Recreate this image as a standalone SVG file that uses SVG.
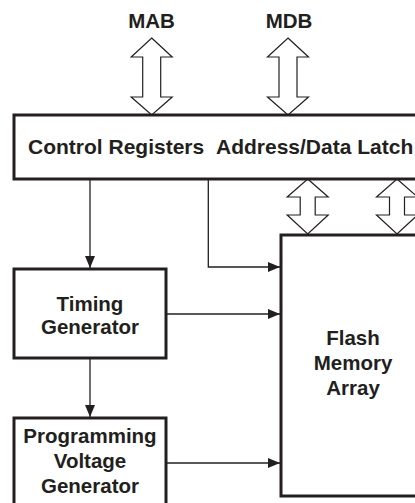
<svg xmlns="http://www.w3.org/2000/svg" width="415" height="503" viewBox="0 0 415 503">
<style>
.box{fill:#fff;stroke:#231f20;stroke-width:3}
.bus{fill:#fff;stroke:#231f20;stroke-width:1.2;stroke-linejoin:miter}
.wire{fill:none;stroke:#231f20;stroke-width:1.3}
text{font-family:"Liberation Sans",Arial,sans-serif;font-weight:bold;font-size:20.5px;fill:#231f20}
.c{text-anchor:middle}
</style>
<defs>
<marker id="ah" markerWidth="12" markerHeight="10" refX="12" refY="5" orient="auto" markerUnits="userSpaceOnUse">
<path d="M0,0 L12,5 L0,10 Z" fill="#231f20"/>
</marker>
</defs>
<rect width="415" height="503" fill="#fff"/>
<g id="connectors">
<path class="wire" d="M90,179 V268" marker-end="url(#ah)"/>
<path class="wire" d="M208.3,179 V267 H280" marker-end="url(#ah)"/>
<path class="wire" d="M166,314 H280" marker-end="url(#ah)"/>
<path class="wire" d="M90,358 V417" marker-end="url(#ah)"/>
<path class="wire" d="M166,463 H280" marker-end="url(#ah)"/>
<polygon class="bus" points="151.7,38 172.2,57 160.7,57 160.7,97 172.2,97 151.7,115 131.2,97 142.7,97 142.7,57 131.2,57"/>
<polygon class="bus" points="288,38 308.5,57 297,57 297,97 308.5,97 288,115 267.5,97 279,97 279,57 267.5,57"/>
<polygon class="bus" points="307.7,179 328.2,197 315.2,197 315.2,215 328.2,215 307.7,234 287.2,215 300.2,215 300.2,197 287.2,197"/>
<polygon class="bus" points="397,179 417.5,197 404.5,197 404.5,215 417.5,215 397,234 376.5,215 389.5,215 389.5,197 376.5,197"/>
</g>
<g id="labels">
<text class="c" x="151.5" y="28">MAB</text>
<text class="c" x="289" y="28">MDB</text>
</g>
<g id="control">
<rect class="box" x="14" y="115" width="420" height="64"/>
<text x="28" y="154" font-size="21" style="font-size:21px">Control Registers</text>
<text x="216" y="154" style="font-size:21px">Address/Data Latch</text>
</g>
<g id="timing">
<rect class="box" x="14" y="269" width="152" height="89"/>
<text class="c" x="90" y="310.5">Timing</text>
<text class="c" x="90" y="333.5">Generator</text>
</g>
<g id="progvolt">
<rect class="box" x="14" y="418" width="152" height="100"/>
<text class="c" x="90" y="443">Programming</text>
<text class="c" x="90" y="468">Voltage</text>
<text class="c" x="90" y="493">Generator</text>
</g>
<g id="flash">
<rect class="box" x="281" y="235" width="150" height="261"/>
<text class="c" x="353" y="345">Flash</text>
<text class="c" x="353" y="370">Memory</text>
<text class="c" x="353" y="395">Array</text>
</g>
</svg>
